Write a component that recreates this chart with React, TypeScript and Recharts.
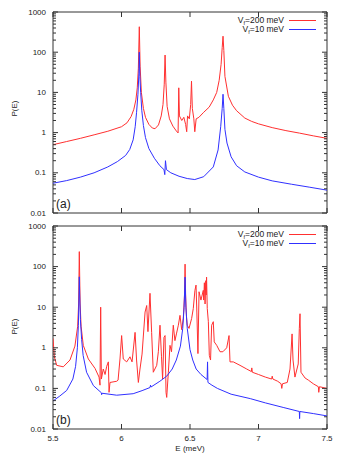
import { LineChart, Line, XAxis, YAxis, ReferenceLine } from "recharts";

// energy axis and log P(E) axis
const xTicks = [5.5, 6, 6.5, 7, 7.5];
const yMajor = [0.01, 0.1, 1, 10, 100, 1000];
const yMinor = [
  0.02, 0.03, 0.04, 0.05, 0.06, 0.07, 0.08, 0.09,
  0.2, 0.3, 0.4, 0.5, 0.6, 0.7, 0.8, 0.9,
  2, 3, 4, 5, 6, 7, 8, 9,
  20, 30, 40, 50, 60, 70, 80, 90,
  200, 300, 400, 500, 600, 700, 800, 900,
];
const legendValues = ["200", "10"];
const panelNames = ["(a)", "(b)"];

// panel (a): [E (meV), P(E)]
const aRed: [number, number][] = [
  [5.5, 0.5], [5.6, 0.6], [5.7, 0.72], [5.8, 0.88], [5.9, 1.08], [6.0, 1.4], [6.04, 1.75],
  [6.07, 2.5], [6.09, 3.8], [6.105, 6.5], [6.115, 13], [6.123, 40], [6.13, 430], [6.136, 45],
  [6.145, 10], [6.16, 4], [6.175, 2.4], [6.2, 1.6], [6.225, 1.3], [6.245, 1.25], [6.27, 1.55],
  [6.29, 2.6], [6.303, 5], [6.312, 16], [6.318, 85], [6.324, 18], [6.333, 4.5], [6.35, 2.2],
  [6.375, 1.45], [6.4, 1.1], [6.413, 0.98], [6.418, 13], [6.423, 2.6], [6.44, 2.0], [6.455, 2.4],
  [6.468, 1.6], [6.476, 1.05], [6.482, 2.6], [6.495, 2.2], [6.505, 5], [6.511, 19], [6.517, 4],
  [6.528, 2.2], [6.535, 1.05], [6.545, 2.2], [6.565, 2.4], [6.6, 3.2], [6.64, 4.3], [6.67, 6.5],
  [6.695, 10], [6.713, 20], [6.727, 50], [6.735, 130], [6.741, 250], [6.747, 110], [6.755, 25],
  [6.78, 8], [6.81, 4.8], [6.84, 3.5], [6.9, 2.3], [6.95, 1.9], [7.0, 1.65], [7.1, 1.33],
  [7.2, 1.12], [7.3, 0.97], [7.4, 0.83], [7.5, 0.72],
];
const aBlue: [number, number][] = [
  [5.5, 0.055], [5.6, 0.064], [5.7, 0.078], [5.8, 0.1], [5.9, 0.14], [5.97, 0.19], [6.03, 0.27],
  [6.06, 0.38], [6.085, 0.66], [6.1, 1.4], [6.11, 3.2], [6.12, 9], [6.127, 30], [6.13, 100],
  [6.134, 25], [6.14, 10], [6.148, 3.6], [6.16, 1.5], [6.175, 0.75], [6.2, 0.4], [6.24, 0.23],
  [6.28, 0.15], [6.31, 0.12], [6.316, 0.09], [6.321, 0.2], [6.328, 0.12], [6.36, 0.1],
  [6.42, 0.082], [6.48, 0.072], [6.535, 0.068], [6.6, 0.08], [6.67, 0.14], [6.705, 0.37],
  [6.724, 1.4], [6.735, 4], [6.741, 9], [6.747, 4], [6.755, 1.2], [6.77, 0.55], [6.8, 0.25],
  [6.84, 0.15], [6.9, 0.105], [7.0, 0.078], [7.1, 0.063], [7.24, 0.052], [7.37, 0.044], [7.5, 0.037],
];

// panel (b)
const bRed: [number, number][] = [
  [5.5, 1.7], [5.51, 0.6], [5.527, 0.37], [5.575, 0.34], [5.624, 0.5], [5.66, 1.1], [5.68, 3.4],
  [5.687, 12], [5.692, 234], [5.698, 12], [5.705, 3.4], [5.721, 1.15], [5.758, 0.53], [5.807, 0.31],
  [5.836, 0.19], [5.843, 0.12], [5.848, 10], [5.853, 0.17], [5.867, 0.3], [5.88, 0.22], [5.892, 0.35],
  [5.904, 0.45], [5.909, 0.08], [5.916, 0.14], [5.965, 0.15], [5.975, 0.16], [5.989, 0.53],
  [6.001, 2.0], [6.013, 0.53], [6.038, 0.45], [6.062, 0.6], [6.077, 0.45], [6.099, 2.4], [6.11, 0.5],
  [6.123, 0.14], [6.135, 0.3], [6.15, 0.7], [6.172, 7.6], [6.184, 11], [6.193, 2.5], [6.208, 22],
  [6.22, 2.4], [6.232, 0.25], [6.257, 0.37], [6.269, 0.8], [6.281, 3.6], [6.292, 0.6], [6.3, 0.17],
  [6.31, 1.8], [6.318, 2.0], [6.325, 0.08], [6.33, 0.06], [6.342, 0.25], [6.354, 1.15], [6.365, 0.8],
  [6.378, 3.6], [6.39, 1.5], [6.401, 2.2], [6.415, 3.6], [6.427, 6.3], [6.439, 2.8], [6.451, 5.3],
  [6.46, 20], [6.464, 115], [6.468, 20], [6.474, 6], [6.48, 3.6], [6.493, 3.0], [6.512, 5.3],
  [6.524, 9.3], [6.536, 26], [6.544, 35], [6.55, 7.6], [6.558, 0.72], [6.566, 24], [6.58, 15],
  [6.597, 26], [6.6, 15], [6.605, 40], [6.61, 12], [6.615, 45], [6.618, 20], [6.621, 55],
  [6.626, 9.3], [6.634, 4.4], [6.641, 0.65], [6.65, 0.5], [6.658, 3.6], [6.67, 4.4], [6.677, 1.4],
  [6.695, 1.15], [6.719, 0.8], [6.74, 0.8], [6.768, 1.0], [6.785, 2.0], [6.792, 0.45], [6.816, 0.45],
  [6.865, 0.37], [6.914, 0.3], [6.948, 0.26], [6.951, 0.32], [6.955, 0.25], [7.0, 0.22], [7.05, 0.19],
  [7.096, 0.17], [7.1, 0.2], [7.105, 0.17], [7.14, 0.15], [7.165, 0.13], [7.17, 0.1], [7.175, 0.13],
  [7.21, 0.14], [7.23, 0.3], [7.245, 2.2], [7.252, 0.5], [7.266, 0.19], [7.29, 0.4], [7.298, 3],
  [7.303, 6.9], [7.31, 0.25], [7.34, 0.18], [7.364, 0.16], [7.4, 0.13], [7.437, 0.11], [7.44, 0.08],
  [7.445, 0.11], [7.5, 0.1],
];
const bBlue: [number, number][] = [
  [5.5, 0.049], [5.55, 0.065], [5.6, 0.089], [5.645, 0.17], [5.665, 0.35], [5.678, 1.0], [5.685, 3.5],
  [5.69, 20], [5.692, 56], [5.695, 20], [5.7, 5], [5.709, 1.6], [5.72, 0.65], [5.745, 0.25],
  [5.795, 0.117], [5.853, 0.078], [5.855, 0.07], [5.858, 0.076], [5.965, 0.068], [6.085, 0.074],
  [6.15, 0.088], [6.208, 0.105], [6.212, 0.12], [6.215, 0.108], [6.28, 0.15], [6.33, 0.2], [6.37, 0.3],
  [6.4, 0.5], [6.43, 1.1], [6.447, 3], [6.457, 10], [6.464, 55], [6.47, 10], [6.48, 3], [6.5, 0.9],
  [6.52, 0.5], [6.545, 0.3], [6.58, 0.22], [6.625, 0.165], [6.628, 0.45], [6.631, 0.14], [6.66, 0.12],
  [6.7, 0.1], [6.8, 0.072], [6.94, 0.056], [7.05, 0.044], [7.18, 0.034], [7.298, 0.027], [7.3, 0.018],
  [7.302, 0.027], [7.4, 0.024], [7.5, 0.021],
];

const RED = "#ff3030";
const BLUE = "#3030ff";
const AXIS = "#333";
const FONT = "'Liberation Sans', Arial, sans-serif";
const PLOT_L = 53;
const PLOT_R = 327;
const yTicks = [...yMajor, ...yMinor].sort((a, b) => a - b);

const toRows = (pts: [number, number][]) => pts.map(([E, P]) => ({ E, P }));

// gnuplot-style inward ticks, mirrored on the opposite side
function XTick(props: any) {
  const { x, payload, plotTop, plotBottom, showLabel } = props;
  return (
    <g>
      <path d={`M${x},${plotBottom}v-5M${x},${plotTop}v5`} stroke={AXIS} strokeWidth={1} fill="none" />
      {showLabel && (
        <text x={x} y={plotBottom + 9} textAnchor="middle" dominantBaseline="central"
          fontSize={8} fontFamily={FONT} fill="#222">
          {payload.value}
        </text>
      )}
    </g>
  );
}

function YTick(props: any) {
  const { y, payload } = props;
  const major = yMajor.includes(payload.value);
  const len = major ? 5 : 3;
  return (
    <g>
      <path d={`M${PLOT_L},${y}h${len}M${PLOT_R},${y}h${-len}`} stroke={AXIS} strokeWidth={1} fill="none" />
      {major && (
        <text x={46} y={y} textAnchor="end" dominantBaseline="central"
          fontSize={8} fontFamily={FONT} fill="#222">
          {String(payload.value)}
        </text>
      )}
    </g>
  );
}

function LegendBox({ top }: { top: number }) {
  const colors = [RED, BLUE];
  return (
    <div style={{ position: "absolute", left: 196, top, width: 120, fontFamily: FONT, fontSize: 8.5, color: "#222" }}>
      {legendValues.map((v, i) => (
        <div key={v} style={{ display: "flex", justifyContent: "flex-end", alignItems: "center", height: 9, lineHeight: "9px" }}>
          <span style={{ whiteSpace: "nowrap" }}>
            V<span style={{ fontSize: 5.5, position: "relative", top: 2 }}>f</span>={v} meV
          </span>
          <span style={{ display: "inline-block", width: 27, height: 1, background: colors[i], marginLeft: 5 }} />
        </div>
      ))}
    </div>
  );
}

function Panel({ red, blue, top, height, mTop, xHeight, showX, name, labelY }: any) {
  const plotTop = mTop;
  const plotBottom = height - xHeight;
  return (
    <div style={{ position: "absolute", left: 0, top, width: 349, height }}>
      <LineChart width={349} height={height} margin={{ top: mTop, right: 349 - PLOT_R, bottom: 0, left: 0 }}>
        <XAxis type="number" dataKey="E" domain={[5.5, 7.5]} ticks={xTicks} interval={0}
          allowDataOverflow height={xHeight} axisLine={false} tickSize={0} stroke="none"
          tick={<XTick plotTop={plotTop} plotBottom={plotBottom} showLabel={showX} />} />
        <YAxis type="number" scale="log" domain={[0.01, 1000]} ticks={yTicks} interval={0}
          allowDataOverflow width={PLOT_L} axisLine={false} tickSize={0} stroke="none" tick={<YTick />} />
        <ReferenceLine x={5.5} stroke={AXIS} strokeWidth={1} />
        <ReferenceLine x={7.5} stroke={AXIS} strokeWidth={1} />
        <ReferenceLine y={0.01} stroke={AXIS} strokeWidth={1} />
        <ReferenceLine y={1000} stroke={AXIS} strokeWidth={1} />
        <Line data={toRows(red)} dataKey="P" type="linear" stroke={RED} strokeWidth={1} dot={false} isAnimationActive={false} />
        <Line data={toRows(blue)} dataKey="P" type="linear" stroke={BLUE} strokeWidth={1} dot={false} isAnimationActive={false} />
      </LineChart>
      <LegendBox top={mTop + 4} />
      <div style={{ position: "absolute", left: 9, top: labelY - 20, width: 10, height: 40, display: "flex", alignItems: "center", justifyContent: "center" }}>
        <span style={{ transform: "rotate(-90deg)", whiteSpace: "nowrap", fontFamily: FONT, fontSize: 8, color: "#222" }}>P(E)</span>
      </div>
      <div style={{ position: "absolute", left: 56, top: plotBottom - 16, fontFamily: FONT, fontSize: 12, color: "#222" }}>
        {name}
      </div>
      {showX && (
        <div style={{ position: "absolute", left: PLOT_L, width: PLOT_R - PLOT_L, top: plotBottom + 15, textAlign: "center", fontFamily: FONT, fontSize: 8, color: "#222" }}>
          E (meV)
        </div>
      )}
    </div>
  );
}

export default function App() {
  return (
    <div style={{ position: "absolute", left: 0, top: 0, width: 349, height: 459, background: "#fff", overflow: "hidden" }}>
      <Panel red={aRed} blue={aBlue} top={0} height={222} mTop={12} xHeight={9} showX={false} name={panelNames[0]} labelY={108} />
      <Panel red={bRed} blue={bBlue} top={214} height={245} mTop={12} xHeight={30} showX name={panelNames[1]} labelY={112} />
    </div>
  );
}
